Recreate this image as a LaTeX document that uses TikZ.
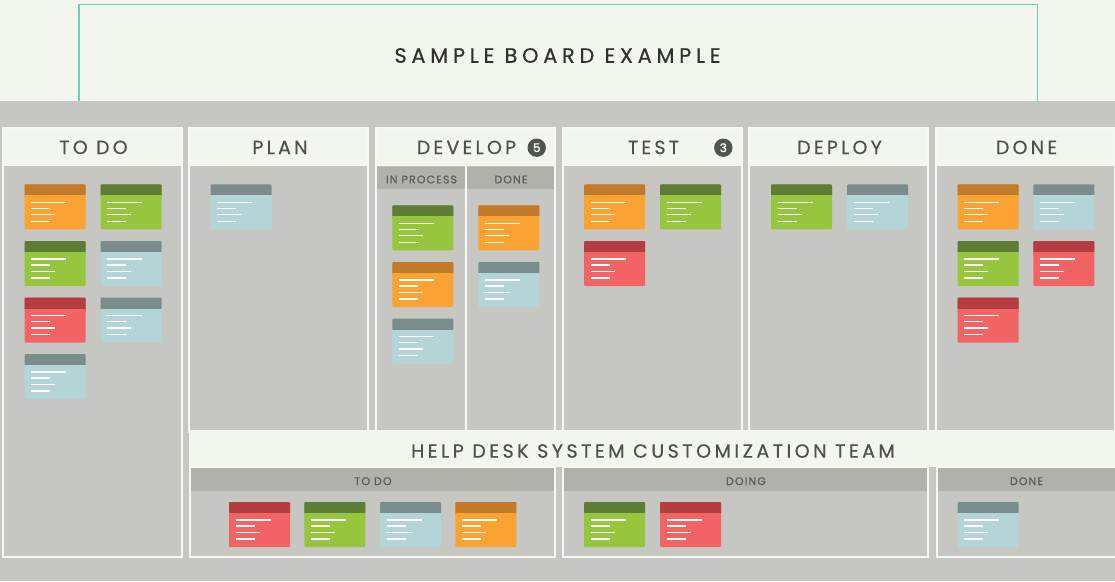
\documentclass[tikz,border=0pt]{standalone}
\usepackage{fontspec}
\setmainfont{Poppins}
\newfontfamily\hdfont[LetterSpace=17,FakeBold=0.6]{Poppins}
\newfontfamily\teamfont[LetterSpace=18.5,FakeBold=0.6]{Poppins}
\newfontfamily\ttlfont[LetterSpace=23,FakeBold=0.5]{Poppins}
\newfontfamily\subfont[LetterSpace=10,FakeBold=0.6]{Poppins}
\newfontfamily\badgefont[FakeBold=0.8]{Poppins}
\definecolor{topbg}{HTML}{F2F6EF}
\definecolor{greybg}{HTML}{C6C7C2}
\definecolor{subbg}{HTML}{B0B2AA}
\definecolor{tealc}{HTML}{66D2BD}
\definecolor{txt}{HTML}{4D524C}
\definecolor{ttl}{HTML}{2F332E}
\definecolor{subtxt}{HTML}{595E58}
\definecolor{edgec}{HTML}{F5F8F3}
\definecolor{orB}{HTML}{FBA332}\definecolor{orH}{HTML}{C17A2B}
\definecolor{grB}{HTML}{96C63E}\definecolor{grH}{HTML}{5E7C35}
\definecolor{rdB}{HTML}{F26463}\definecolor{rdH}{HTML}{B33D3F}
\definecolor{blB}{HTML}{B3D5D7}\definecolor{blH}{HTML}{7A8C8C}
\definecolor{badgec}{HTML}{4F5550}
\newcommand\kcard[3]{%
  \fill[#3B,rounded corners=1pt] (#1,#2) rectangle ++(61,45);
  \fill[#3H,rounded corners=1pt] (#1,#2) rectangle ++(61,12);
  \fill[#3B] (#1,#2+11) rectangle ++(61,3);
  \draw[white,line width=1.3pt] (#1+6.5,#2+18) -- ++(35,0)
    (#1+6.5,#2+24) -- ++(19,0)
    (#1+6.5,#2+30.5) -- ++(24,0)
    (#1+6.5,#2+37) -- ++(19,0);
}
\tikzset{
  hd/.style={text=txt,font=\hdfont\fontsize{19}{19}\selectfont,inner sep=0pt},
  team/.style={text=txt,font=\teamfont\fontsize{19}{19}\selectfont,inner sep=0pt},
  ttlstyle/.style={text=ttl,font=\ttlfont\fontsize{20.8}{21}\selectfont,inner sep=0pt},
  sub/.style={text=subtxt,font=\subfont\fontsize{11}{11}\selectfont,inner sep=0pt},
  badge/.style={circle,fill=badgec,text=white,minimum size=18.4pt,inner sep=0pt,font=\badgefont\fontsize{12}{12}\selectfont},
  edgeline/.style={draw=edgec,line width=1.5pt},
}
\begin{document}
\begin{tikzpicture}[x=1pt,y=-1pt]
\useasboundingbox (0,0) rectangle (1115,581);
\fill[topbg] (0,0) rectangle (1115,101);
\fill[greybg] (0,101) rectangle (1115,581);
\draw[tealc,line width=1.5pt] (79,101) |- (1037.5,4.7) -- (1037.5,101);
\node[ttlstyle] (title) at (557.5,55.5) {SAMPLE BOARD EXAMPLE};
% columns
\fill[topbg] (3,128) rectangle (182,166);
\draw[edgeline] (3,128) rectangle (182,557);
\foreach \cx in {189,376,563,749,936}{
  \fill[topbg] (\cx,128) rectangle (\cx+179,166);
  \draw[edgeline] (\cx,128) rectangle (\cx+179,432);
}
% develop subheader
\fill[subbg] (377,167) rectangle (554.2,189);
\draw[edgeline] (466,166) -- (466,430);
\node[sub] (inproc) at (421.5,179.5) {IN PROCESS};
\node[sub] (devdone) at (511,179.5) {DONE};
% headings
\node[hd] (hTodo) at (93.5,147.4) {TO DO};
\node[hd] (hPlan) at (280,147.4) {PLAN};
\node[hd] (hDev) at (466.5,147.4) {DEVELOP};
\node[hd] (hTest) at (653.5,147.4) {TEST};
\node[hd] (hDeploy) at (839.5,147.4) {DEPLOY};
\node[hd] (hDone) at (1026.5,147.4) {DONE};
\node[badge] (b5) at (536.7,147.7) {5};
\node[badge] (b3) at (723.3,147.7) {3};
% band
\fill[topbg] (189,430) rectangle (1115,467);
\node[team] (teamlabel) at (653,451) {HELP DESK SYSTEM CUSTOMIZATION TEAM};
\foreach \a/\b in {190/555,563/928,937/1116}{
  \fill[subbg] (\a,467) rectangle (\b,491);
  \draw[edgeline] (\a,467) rectangle (\b,557);
}
\node[sub] (lTodo) at (373,481.2) {TO DO};
\node[sub] (lDoing) at (746,481.2) {DOING};
\node[sub] (lDone) at (1026.5,481.2) {DONE};
% cards: TO DO
\kcard{24.5}{184.3}{or} \kcard{100.5}{184.3}{gr}
\kcard{24.5}{241}{gr} \kcard{100.5}{241}{bl}
\kcard{24.5}{297.5}{rd} \kcard{100.5}{297.5}{bl}
\kcard{24.5}{354}{bl}
% PLAN
\kcard{210.5}{184.3}{bl}
% DEVELOP
\kcard{392.3}{205.3}{gr} \kcard{478.3}{205.3}{or}
\kcard{392.3}{262}{or} \kcard{478.3}{262}{bl}
\kcard{392.3}{318.5}{bl}
% TEST
\kcard{584}{184.3}{or} \kcard{660}{184.3}{gr}
\kcard{584}{241}{rd}
% DEPLOY
\kcard{771}{184.3}{gr} \kcard{847}{184.3}{bl}
% DONE
\kcard{957.7}{184.3}{or} \kcard{1033.3}{184.3}{bl}
\kcard{957.7}{241}{gr} \kcard{1033.3}{241}{rd}
\kcard{957.7}{297.5}{rd}
% lower
\kcard{229}{502}{rd} \kcard{304.3}{502}{gr} \kcard{380}{502}{bl} \kcard{455.3}{502}{or}
\kcard{584}{502}{gr} \kcard{660}{502}{rd}
\kcard{957.7}{502}{bl}
\end{tikzpicture}
\end{document}
